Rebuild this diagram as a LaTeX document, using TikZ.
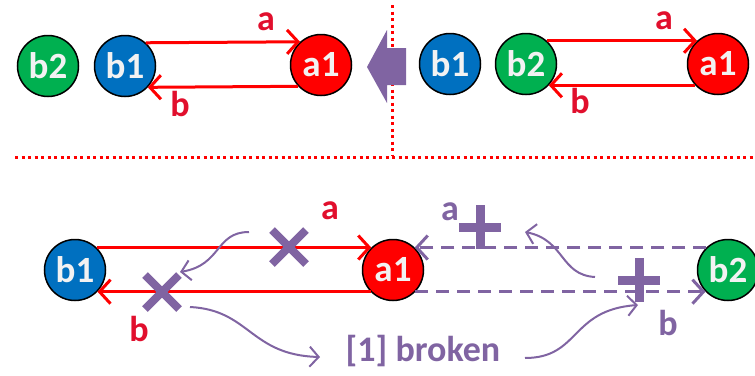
\documentclass[tikz,border=0pt]{standalone}
\usepackage{fontspec}
\setmainfont{Carlito}
\usetikzlibrary{arrows.meta}
\definecolor{nred}{RGB}{255,0,0}
\definecolor{nblue}{RGB}{0,112,192}
\definecolor{ngreen}{RGB}{0,176,80}
\definecolor{lred}{RGB}{225,15,45}
\definecolor{purp}{RGB}{128,100,162}
\definecolor{ntext}{RGB}{242,242,242}
\begin{document}
\begin{tikzpicture}[x=1pt,y=-1pt,
  circ/.style={circle, draw=black, line width=1.5pt, minimum size=61pt, inner sep=0pt, text=ntext, font=\bfseries\fontsize{37}{37}\selectfont},
  redc/.style={circ, fill=nred},
  bluec/.style={circ, fill=nblue},
  greenc/.style={circ, fill=ngreen},
  redarr/.style={draw=nred, line width=3pt, -{Straight Barb[length=11pt,width=24pt]}},
  purparr/.style={draw=purp, line width=3pt, dash pattern=on 13pt off 8pt, -{Straight Barb[length=11pt,width=24pt]}},
  thinarr/.style={draw=purp, line width=2pt, -{Straight Barb[length=9pt,width=20pt]}},
  rlabel/.style={text=lred, font=\bfseries\fontsize{36}{36}\selectfont, inner sep=0pt},
  plabel/.style={text=purp, font=\bfseries\fontsize{36}{36}\selectfont, inner sep=0pt},
  dotline/.style={draw=nred, line width=3pt, dash pattern=on 3pt off 3.5pt},
  xmark/.pic={\draw[purp, line width=8pt] (-17,-17) -- (17,17) (-17,17) -- (17,-17);},
  pmark/.pic={\draw[purp, line width=9pt] (-21,0) -- (21,0) (0,-22) -- (0,22);}
]
\useasboundingbox (0,0) rectangle (755,375);

% separators
\coordinate (vtop) at (392,5);
\coordinate (vbot) at (392,156);
\coordinate (hl) at (15,157);
\coordinate (hr) at (755,157);
\draw[dotline] (vtop) -- (vbot);
\draw[dotline] (hl) -- (hr);

% big arrow
\fill[purp] (367,67) -- (387,30) -- (387,48) -- (406,48) -- (406,85) -- (387,85) -- (387,103) -- cycle;

% top left
\node[greenc] (tlb2) at (48,66) {b2};
\node[bluec] (tlb1) at (125,66) {b1};
\node[redc] (tla1) at (321,65) {a1};
\draw[redarr] (tlb1.48) -- (tla1.132);
\draw[redarr] (tla1.-137) -- (tlb1.-43);
\node[rlabel] (tla) at (266,22) {a};
\node[rlabel] (tlb) at (180,104) {b};

% top right
\node[bluec] (trb1) at (450,64) {b1};
\node[greenc] (trb2) at (526,64) {b2};
\node[redc] (tra1) at (718,64) {a1};
\draw[redarr] (trb2.48) -- (tra1.132);
\draw[redarr] (tra1.-137) -- (trb2.-43);
\node[rlabel] (tra) at (664,21) {a};
\node[rlabel] (trb) at (580,101) {b};

% bottom
\node[bluec] (bb1) at (75,270) {b1};
\node[redc] (ba1) at (393,270) {a1};
\node[greenc] (bb2) at (728,270) {b2};
\draw[redarr] (bb1.46) -- (ba1.134);
\draw[redarr] (ba1.-136) -- (bb1.-44);
\draw[purparr] (bb2.134) -- (ba1.46);
\draw[purparr] (ba1.-44) -- (bb2.-136);
\node[rlabel] (ba) at (330,211) {a};
\node[rlabel] (bbl) at (139,329) {b};
\node[plabel] (pa) at (450,212) {a};
\node[plabel] (pb) at (668,323) {b};
\node[plabel] (broken) at (423,351) {[1] broken};

\pic at (289,247) {xmark};
\pic at (162,292) {xmark};
\pic at (480,227) {pmark};
\pic at (639,280) {pmark};

% thin curved arrows
\coordinate (c1s) at (249,232);
\coordinate (c1e) at (180,272);
\draw[thinarr] (c1s) .. controls (215,232) and (222,265) .. (c1e);
\coordinate (c2s) at (190,307);
\coordinate (c2e) at (320,357);
\draw[thinarr] (c2s) .. controls (250,310) and (250,355) .. (c2e);
\coordinate (c3s) at (595,277);
\coordinate (c3e) at (525,232);
\draw[thinarr] (c3s) .. controls (560,275) and (565,240) .. (c3e);
\coordinate (c4s) at (525,358);
\coordinate (c4e) at (638,305);
\draw[thinarr] (c4s) .. controls (580,358) and (570,310) .. (c4e);
\end{tikzpicture}
\end{document}
